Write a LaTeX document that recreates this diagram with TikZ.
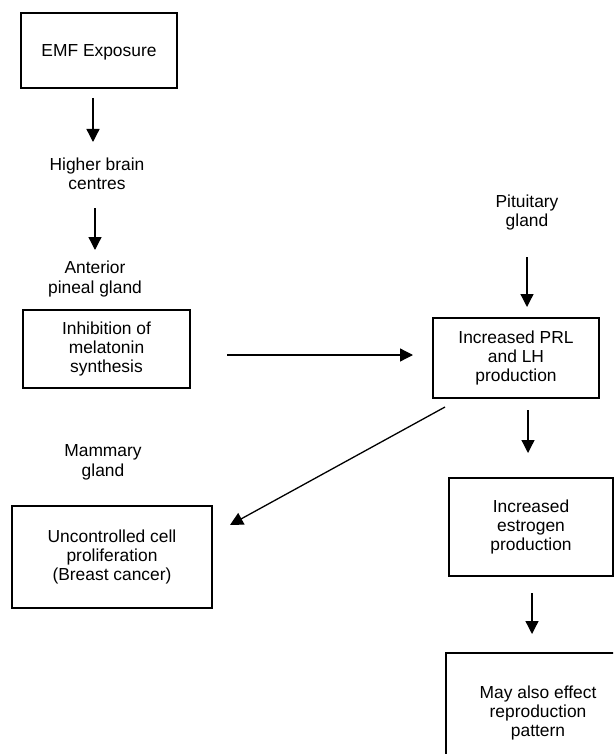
\documentclass[tikz,border=0pt]{standalone}
\usepackage{fontspec}
\setmainfont{Liberation Sans}
\usetikzlibrary{arrows.meta}
\begin{document}
\begin{tikzpicture}[x=1pt,y=-1pt,
  txt/.style={align=center,font=\fontsize{17.4}{19.4}\selectfont,inner sep=0pt},
  box/.style={txt,draw,line width=1.4pt},
  arr/.style={line width=1.3pt,-{Triangle[length=13pt,width=13pt]}}]
\useasboundingbox (0,0) rectangle (613,754);
\fill[white] (0,0) rectangle (613,754);
% boxes
\node[box,minimum width=156pt,minimum height=75pt,text depth=-4pt] (emf) at (99,50.5) {EMF Exposure};
\node[box,minimum width=167pt,minimum height=78pt] (inh) at (106.5,349) {Inhibition of\\melatonin\\synthesis};
\node[box,minimum width=166pt,minimum height=80pt] (prl) at (516,358) {Increased PRL\\and LH\\production};
\node[box,minimum width=200pt,minimum height=102pt] (unc) at (112,557) {Uncontrolled cell\\proliferation\\(Breast cancer)};
\node[box,minimum width=164pt,minimum height=98pt] (est) at (531,527) {Increased\\estrogen\\production};
\begin{scope}
\clip (0,0) rectangle (613,754);
\node[box,minimum width=184pt,minimum height=120pt] (may) at (538,713) {May also effect\\reproduction\\pattern};
\end{scope}
% plain labels
\node[txt] (hbc) at (97,173.5) {Higher brain\\centres};
\node[txt] (apg) at (95,279) {Anterior\\pineal gland};
\node[txt] (pit) at (527,212.5) {Pituitary\\gland};
\node[txt] (mam) at (103,462.5) {Mammary\\gland};
% arrow end points
\coordinate (a1s) at (93,98);   \coordinate (a1e) at (93,142);
\coordinate (a2s) at (95,208);  \coordinate (a2e) at (95,250);
\coordinate (a3s) at (227,355); \coordinate (a3e) at (413,355);
\coordinate (a4s) at (527,257); \coordinate (a4e) at (527,307);
\coordinate (a5s) at (528,410); \coordinate (a5e) at (528,453);
\coordinate (a6s) at (445,407); \coordinate (a6e) at (230,525);
\coordinate (a7s) at (532,593); \coordinate (a7e) at (532,634);
% connectors
\draw[arr] (a1s) -- (a1e);
\draw[arr] (a2s) -- (a2e);
\draw[arr] (a3s) -- (a3e);
\draw[arr] (a4s) -- (a4e);
\draw[arr] (a5s) -- (a5e);
\draw[arr] (a6s) -- (a6e);
\draw[arr] (a7s) -- (a7e);
\end{tikzpicture}
\end{document}
